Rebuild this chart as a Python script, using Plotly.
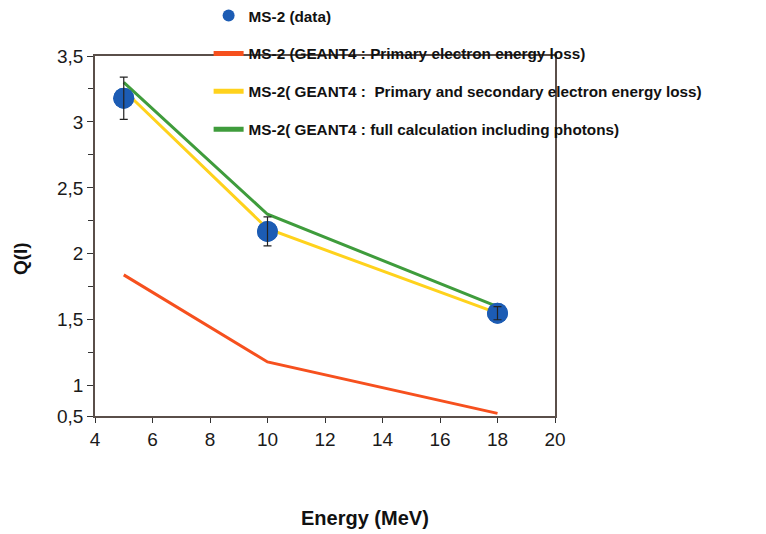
import plotly.graph_objects as go

# data
energy = [5, 10, 18]
q_data = [3.18, 2.17, 1.55]
q_err = [0.16, 0.11, 0.05]
q_primary = [1.84, 1.18, 0.79]
q_prim_sec = [3.24, 2.19, 1.55]
q_full = [3.30, 2.30, 1.60]

# y axis: the original axis bottom is labelled 0,5 although it sits at ~0.77
y_tickvals = [0.77, 1, 1.5, 2, 2.5, 3, 3.5]
y_ticktext = ['0,5', '1', '1,5', '2', '2,5', '3', '3,5']

font = 'Arial, Liberation Sans, sans-serif'

fig = go.Figure()
fig.add_trace(go.Scatter(x=energy, y=q_data, mode='markers', name='MS-2 (data)',
                         marker=dict(color='#1c5cb4', size=21), legendgroup='a'))
fig.add_trace(go.Scatter(x=energy, y=q_primary, mode='lines',
                         name='MS-2 (GEANT4 : Primary electron energy loss)',
                         line=dict(color='#f6501e', width=3), legendgroup='b'))
fig.add_trace(go.Scatter(x=energy, y=q_prim_sec, mode='lines',
                         name='MS-2( GEANT4 :  Primary and secondary electron energy loss)',
                         line=dict(color='#ffd21c', width=3), legendgroup='c'))
fig.add_trace(go.Scatter(x=energy, y=q_full, mode='lines',
                         name='MS-2( GEANT4 : full calculation including photons)',
                         line=dict(color='#3f9c3c', width=3), legendgroup='d'))
# markers drawn over the lines, error bars on top
fig.add_trace(go.Scatter(x=energy, y=q_data, mode='markers', showlegend=False,
                         marker=dict(color='#1c5cb4', size=21)))
fig.add_trace(go.Scatter(x=energy, y=q_data, mode='markers', showlegend=False,
                         marker=dict(color='rgba(0,0,0,0)', size=1),
                         error_y=dict(type='data', array=q_err, color='#222', thickness=1.2, width=4)))

fig.update_layout(
    width=766, height=534,
    margin=dict(l=87, r=219, t=48, b=126, autoexpand=False),
    paper_bgcolor='white', plot_bgcolor='white',
    font=dict(family=font, color='#1a1a1a'),
    separators=', ',
    showlegend=True,
    legend=dict(x=0.247, y=1.158, xanchor='left', yanchor='top',
                bgcolor='rgba(0,0,0,0)', traceorder='grouped', tracegroupgap=15,
                itemsizing='constant',
                font=dict(size=15.3, weight='bold', color='#111'), itemwidth=30),
    xaxis=dict(range=[4, 20], tickvals=[4, 6, 8, 10, 12, 14, 16, 18, 20],
               showgrid=False, zeroline=False, showline=True, linecolor='#5a4f4a',
               linewidth=1.5, mirror=True, ticks='outside', ticklen=5, tickcolor='#333',
               tickfont=dict(size=19), automargin=False),
    yaxis=dict(range=[0.77, 3.5], tickvals=y_tickvals, ticktext=y_ticktext,
               showgrid=False, zeroline=False, showline=True, linecolor='#5a4f4a',
               linewidth=1.5, mirror=True, ticks='outside', ticklen=6, tickcolor='#333',
               tickfont=dict(size=19), automargin=False,
               minor=dict(tickvals=[1.25, 1.75, 2.25, 2.75, 3.25], ticks='outside',
                          ticklen=5, tickcolor='#333')),
)

# axis titles
fig.add_annotation(text='Energy (MeV)', xref='paper', yref='paper', x=0.587, y=-0.283,
                   xanchor='center', yanchor='middle', showarrow=False,
                   font=dict(size=20, weight='bold', color='#111'))
fig.add_annotation(text='Q(I)', xref='paper', yref='paper', x=-0.163, y=0.436,
                   xanchor='center', yanchor='middle', showarrow=False, textangle=-90,
                   font=dict(size=19, weight='bold', color='#111'))

fig.write_html("out.html")
